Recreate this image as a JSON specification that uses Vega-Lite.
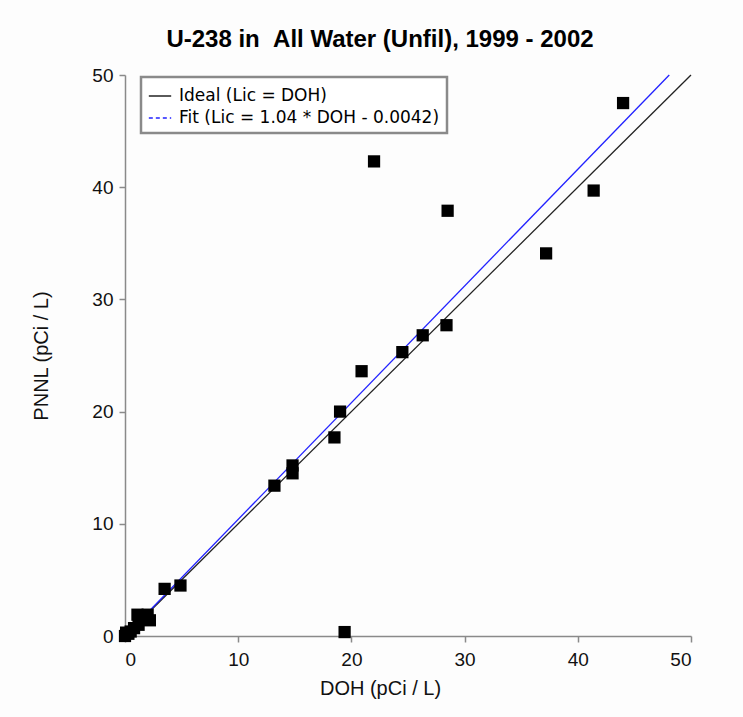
{
  "$schema": "https://vega.github.io/schema/vega-lite/v6.json",
  "autosize": {"type": "none"},
  "width": 566,
  "height": 561,
  "padding": {"left": 125, "top": 75, "right": 52, "bottom": 81},
  "background": "#fdfdfd",
  "title": {
    "text": "U-238 in \u00a0All Water (Unfil), 1999 - 2002",
    "font": "Liberation Sans",
    "fontSize": 24,
    "fontWeight": "bold",
    "color": "#000000",
    "anchor": "middle",
    "baseline": "alphabetic",
    "dx": -28,
    "offset": -5
  },
  "datasets": {
    "samples": [
      {"doh": 44.0, "pnnl": 47.5},
      {"doh": 41.4, "pnnl": 39.7},
      {"doh": 37.2, "pnnl": 34.1},
      {"doh": 28.5, "pnnl": 37.9},
      {"doh": 22.0, "pnnl": 42.3},
      {"doh": 28.4, "pnnl": 27.7},
      {"doh": 26.3, "pnnl": 26.8},
      {"doh": 24.5, "pnnl": 25.3},
      {"doh": 20.9, "pnnl": 23.6},
      {"doh": 19.0, "pnnl": 20.0},
      {"doh": 18.5, "pnnl": 17.7},
      {"doh": 14.8, "pnnl": 15.2},
      {"doh": 14.8, "pnnl": 14.5},
      {"doh": 13.2, "pnnl": 13.4},
      {"doh": 19.4, "pnnl": 0.35},
      {"doh": 4.9, "pnnl": 4.5},
      {"doh": 3.5, "pnnl": 4.2},
      {"doh": 2.2, "pnnl": 1.4},
      {"doh": 2.0, "pnnl": 1.9},
      {"doh": 1.5, "pnnl": 1.8},
      {"doh": 1.1, "pnnl": 1.9},
      {"doh": 1.2, "pnnl": 1.0},
      {"doh": 0.8, "pnnl": 0.7},
      {"doh": 0.5, "pnnl": 0.4},
      {"doh": 0.3, "pnnl": 0.2},
      {"doh": 0.1, "pnnl": 0.3},
      {"doh": 0.0, "pnnl": 0.0}
    ],
    "lines": [
      {"series": "Ideal (Lic = DOH)", "doh": 0, "pnnl": 0},
      {"series": "Ideal (Lic = DOH)", "doh": 50, "pnnl": 50},
      {"series": "Fit (Lic = 1.04 * DOH - 0.0042)", "doh": 0, "pnnl": -0.0042},
      {"series": "Fit (Lic = 1.04 * DOH - 0.0042)", "doh": 48.08, "pnnl": 49.999}
    ]
  },
  "layer": [
    {
      "data": {"name": "lines"},
      "mark": {"type": "line", "strokeWidth": 1.3, "clip": false},
      "encoding": {
        "x": {"field": "doh", "type": "quantitative"},
        "y": {"field": "pnnl", "type": "quantitative"},
        "color": {
          "field": "series",
          "type": "nominal",
          "sort": null,
          "scale": {
            "domain": ["Ideal (Lic = DOH)", "Fit (Lic = 1.04 * DOH - 0.0042)"],
            "range": ["#222222", "#2222ff"]
          },
          "legend": {
            "title": null,
            "orient": "none",
            "legendX": 16,
            "legendY": 2,
            "symbolType": "stroke",
            "symbolSize": 500,
            "symbolStrokeWidth": 1.5,
            "labelFont": "DejaVu Sans",
            "labelFontSize": 17,
            "labelColor": "#000000",
            "labelLimit": 0,
            "labelOffset": 7,
            "strokeColor": "#8a8a8a",
            "fillColor": "#ffffff",
            "padding": 7,
            "rowPadding": 2,
            "encode": {
              "legend": {"update": {"strokeWidth": {"value": 2.5}}},
              "symbols": {
                "update": {
                  "strokeDash": {"signal": "datum.index === 1 ? [4, 3] : [1, 0]"}
                }
              }
            }
          }
        }
      }
    },
    {
      "data": {"name": "samples"},
      "mark": {"type": "square", "size": 150, "filled": true, "color": "#000000", "opacity": 1, "clip": false},
      "encoding": {
        "x": {
          "field": "doh",
          "type": "quantitative",
          "title": "DOH (pCi / L)",
          "scale": {"domain": [0, 50], "nice": false, "zero": false},
          "axis": {"titleX": 255}
        },
        "y": {
          "field": "pnnl",
          "type": "quantitative",
          "title": "PNNL (pCi / L)",
          "scale": {"domain": [0, 50], "nice": false, "zero": false}
        }
      }
    }
  ],
  "config": {
    "view": {"stroke": null},
    "axis": {
      "grid": false,
      "domainColor": "#8a8a8a",
      "domainWidth": 1.5,
      "tickColor": "#8a8a8a",
      "tickWidth": 1.5,
      "tickSize": 6,
      "tickCount": 5,
      "labelFont": "Liberation Sans",
      "labelFontSize": 19,
      "labelColor": "#111111",
      "titleFont": "Liberation Sans",
      "titleFontSize": 20,
      "titleFontWeight": "normal",
      "titleColor": "#111111"
    },
    "axisX": {"labelPadding": 8, "titlePadding": 9},
    "axisY": {"labelPadding": 6, "titlePadding": 40}
  }
}
